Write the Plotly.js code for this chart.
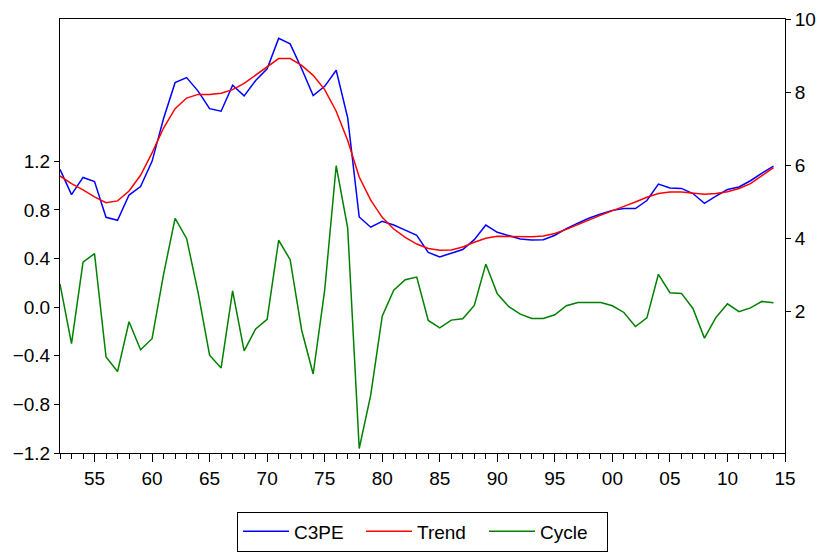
<!DOCTYPE html>
<html>
<head>
<meta charset="utf-8">
<script src="https://cdn.plot.ly/plotly-3.0.1.min.js"></script>
<style>html,body{margin:0;padding:0;background:#fff;}#chart{width:826px;height:553px;}</style>
</head>
<body>
<div id="chart"></div>
<script>
const years = [1952,1953,1954,1955,1956,1957,1958,1959,1960,1961,1962,1963,1964,1965,1966,1967,1968,1969,1970,1971,1972,1973,1974,1975,1976,1977,1978,1979,1980,1981,1982,1983,1984,1985,1986,1987,1988,1989,1990,1991,1992,1993,1994,1995,1996,1997,1998,1999,2000,2001,2002,2003,2004,2005,2006,2007,2008,2009,2010,2011,2012,2013,2014];

const c3pe = [5.89,5.20,5.67,5.56,4.58,4.50,5.19,5.42,6.11,7.28,8.26,8.40,8.03,7.55,7.48,8.19,7.90,8.32,8.64,9.47,9.32,8.64,7.91,8.16,8.60,7.30,4.59,4.31,4.47,4.37,4.23,4.09,3.62,3.50,3.60,3.70,3.97,4.37,4.17,4.07,3.99,3.96,3.97,4.09,4.27,4.42,4.56,4.67,4.77,4.82,4.82,5.04,5.49,5.38,5.37,5.23,4.96,5.16,5.34,5.41,5.58,5.79,5.98];

const trend = [5.71,5.50,5.33,5.14,4.98,5.03,5.30,5.73,6.34,7.02,7.55,7.84,7.94,7.94,7.97,8.07,8.24,8.47,8.71,8.92,8.92,8.73,8.46,8.07,7.48,6.68,5.68,5.05,4.58,4.26,4.03,3.85,3.73,3.68,3.69,3.77,3.90,4.01,4.06,4.06,4.04,4.05,4.07,4.14,4.25,4.37,4.51,4.64,4.77,4.88,5.00,5.13,5.23,5.27,5.27,5.24,5.21,5.23,5.28,5.37,5.50,5.72,5.94];

const cycle = [0.19,-0.30,0.37,0.44,-0.41,-0.53,-0.12,-0.35,-0.26,0.27,0.73,0.565,0.12,-0.395,-0.50,0.134,-0.36,-0.18,-0.10,0.55,0.39,-0.19,-0.55,0.14,1.163,0.65,-1.163,-0.724,-0.074,0.14,0.225,0.247,-0.11,-0.17,-0.107,-0.096,0.014,0.354,0.11,0.003,-0.058,-0.093,-0.093,-0.063,0.011,0.038,0.038,0.038,0.011,-0.044,-0.16,-0.088,0.27,0.118,0.113,-0.011,-0.255,-0.085,0.027,-0.038,-0.006,0.047,0.035];

const xTickVals = [1955,1960,1965,1970,1975,1980,1985,1990,1995,2000,2005,2010,2015];
const xTickText = ["55","60","65","70","75","80","85","90","95","00","05","10","15"];
const leftTickVals = [-1.2,-0.8,-0.4,0.0,0.4,0.8,1.2];
const rightTickVals = [2,4,6,8,10];

const font = {family: "Liberation Sans, Arial, sans-serif", size: 19, color: "#000"};
const legendFont = {family: "Liberation Sans, Arial, sans-serif", size: 19, color: "#000"};

const traces = [
  {x: years, y: c3pe, name: "C3PE", type: "scatter", mode: "lines", yaxis: "y2",
   line: {color: "#0000FF", width: 1.5}},
  {x: years, y: trend, name: "Trend", type: "scatter", mode: "lines", yaxis: "y2",
   line: {color: "#FF0000", width: 1.5}},
  {x: years, y: cycle, name: "Cycle", type: "scatter", mode: "lines", yaxis: "y",
   line: {color: "#008000", width: 1.5}}
];

const layout = {
  width: 826, height: 553,
  margin: {l: 60, r: 41, t: 19, b: 100, pad: 0, autoexpand: false},
  paper_bgcolor: "#fff", plot_bgcolor: "#fff",
  font: font,
  showlegend: true,
  legend: {orientation: "h", x: 0.5, xanchor: "center", yref: "container", y: 0.075, yanchor: "top",
           bordercolor: "#000", borderwidth: 1, font: legendFont, traceorder: "normal",
           itemwidth: 46, entrywidth: 62},
  xaxis: {range: [1952, 2015], tickvals: xTickVals, ticktext: xTickText,
          showgrid: false, zeroline: false, showline: true, linecolor: "#000", linewidth: 1,
          mirror: true, ticks: "outside", ticklen: 8, tickcolor: "#000",
          minor: {dtick: 1, tick0: 1952, ticks: "outside", ticklen: 5, tickcolor: "#000", showgrid: false},
          tickfont: font},
  yaxis: {range: [-1.2, 2.37], tickvals: leftTickVals, tickformat: ".1f",
          showgrid: false, zeroline: false, showline: true, linecolor: "#000", linewidth: 1,
          ticks: "outside", ticklen: 5, tickcolor: "#000", tickfont: font},
  yaxis2: {range: [-1.86, 10], tickvals: rightTickVals, overlaying: "y", side: "right",
           showgrid: false, zeroline: false, showline: true, linecolor: "#000", linewidth: 1,
           ticks: "outside", ticklen: 5, tickcolor: "#000", tickfont: font}
};

Plotly.newPlot("chart", traces, layout, {displayModeBar: false, staticPlot: true});
</script>
</body>
</html>
